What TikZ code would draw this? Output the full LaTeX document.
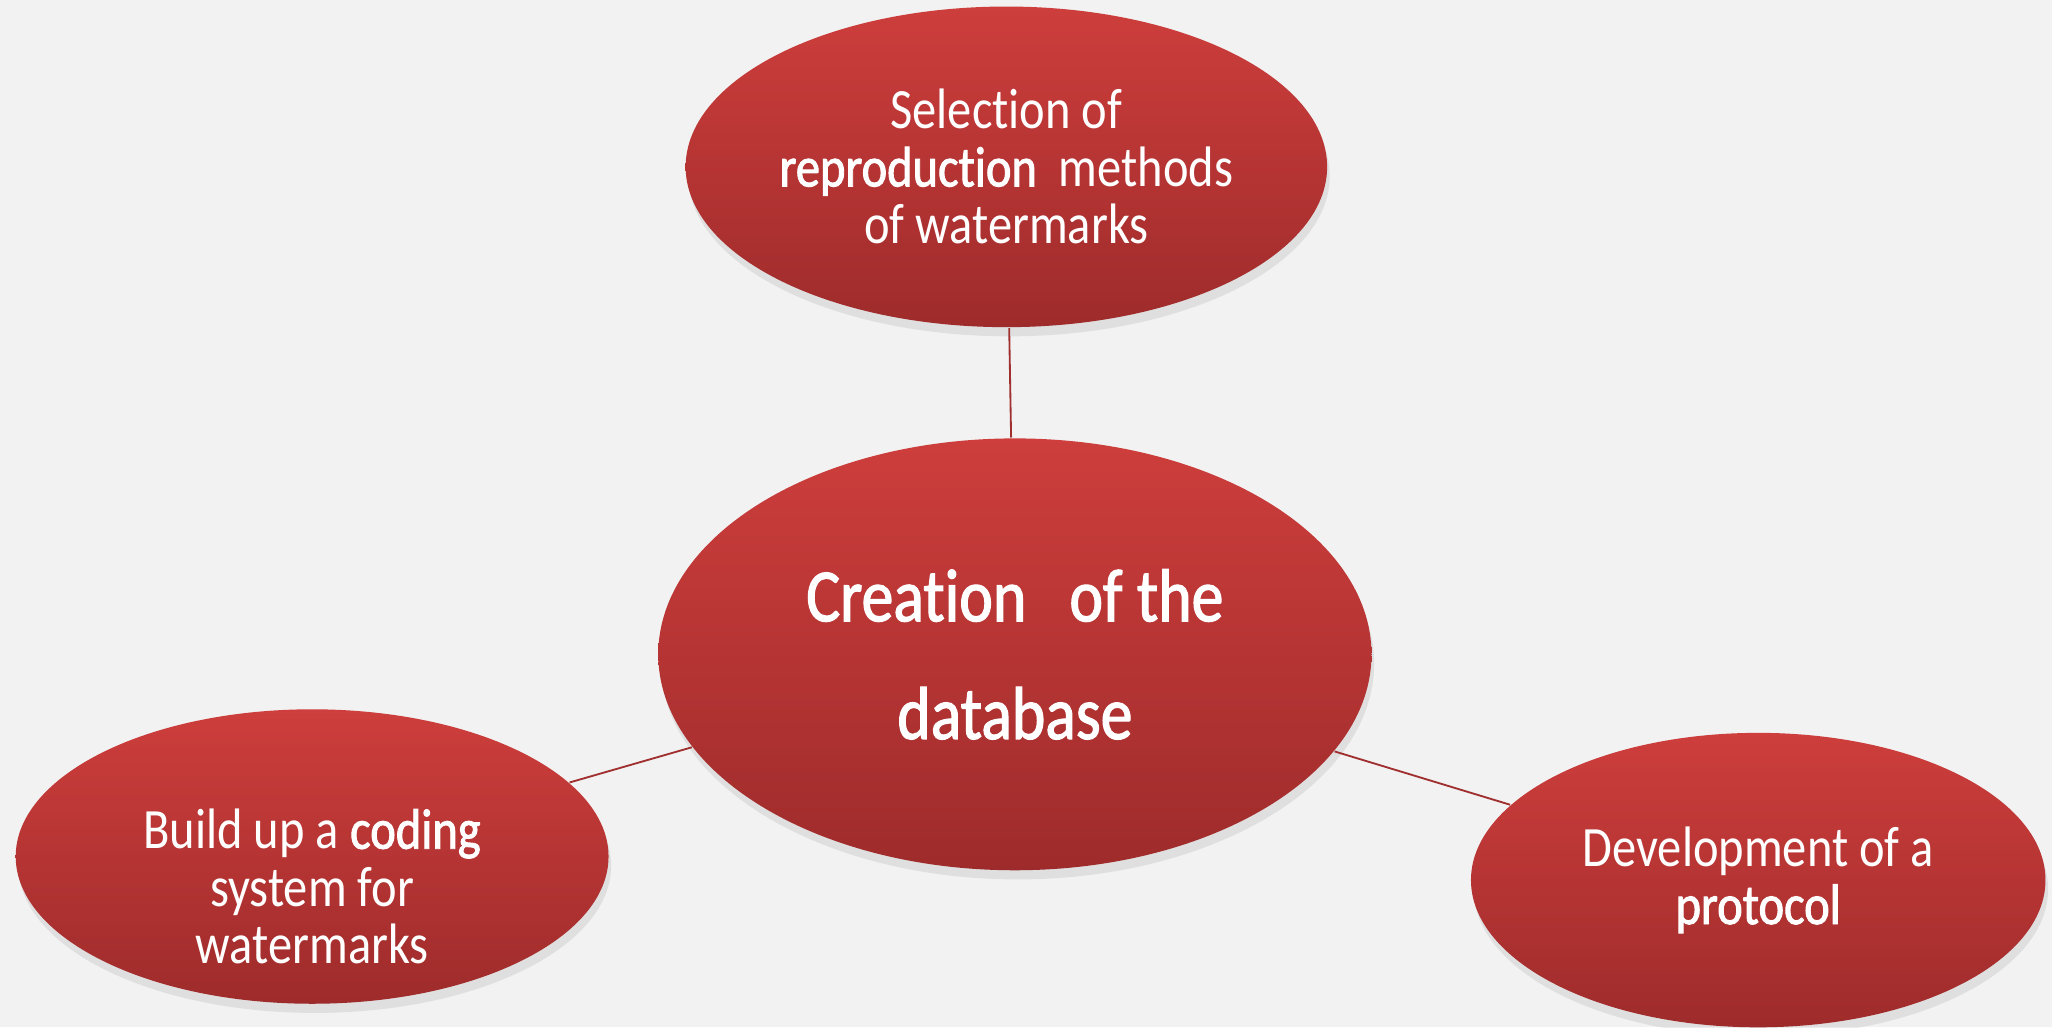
\documentclass[tikz,border=0pt]{standalone}
\usepackage{fontspec}
\setmainfont{Carlito}[FakeStretch=0.85, RawFeature=-liga]
\newfontfamily\semibold{Carlito}[FakeStretch=0.85, FakeBold=1.6, RawFeature=-liga]
\newcommand{\keyword}[1]{{\semibold #1}}
\usetikzlibrary{shapes.geometric,shadows}
\definecolor{pagegrey}{RGB}{242,242,242}
\definecolor{redtop}{RGB}{205,62,60}
\definecolor{redbot}{RGB}{158,43,43}
\definecolor{linkred}{RGB}{160,48,48}
\begin{document}
\begin{tikzpicture}[
    bubble/.style={ellipse, inner sep=0pt, top color=redtop, bottom color=redbot,
      text=white, align=center, font=\fontsize{12.4}{12.5}\selectfont,
      drop shadow={opacity=0.16, shadow xshift=0.2mm, shadow yshift=-0.7mm}},
    bubbletext/.style={text=white, align=center, inner sep=0pt, font=\fontsize{12.4}{12.5}\selectfont},
    link/.style={linkred, line width=0.4pt}]
            \fill[pagegrey] (0,0) rectangle (15.68,7.85);
            \useasboundingbox (0,0) rectangle (15.68,7.85);
            \node[bubble, minimum width=5.45cm, minimum height=3.3cm,
              font=\fontsize{16.3}{25.6}\semibold] (db) at (7.755,2.85) {Creation\ \ \ of the\\database};
            \node[bubble, minimum width=4.78cm, minimum height=2.45cm] (sel) at (7.69,6.575)
              {Selection of\\\keyword{reproduction}\ \ methods\\of watermarks};
            \node[bubble, minimum width=4.53cm, minimum height=2.25cm,
              label={[bubbletext, yshift=-2.3mm]center:{Build up a \keyword{coding}\\system for\\watermarks}}] (cod) at (2.385,1.305) {};
            \node[bubble, minimum width=4.39cm, minimum height=2.25cm] (pro) at (13.435,1.125)
              {Development of a\\\keyword{protocol}};
            \draw[link] (db) -- (sel);
            \draw[link] (db) -- (cod);
            \draw[link] (db) -- (pro);
        \end{tikzpicture}
\end{document}
